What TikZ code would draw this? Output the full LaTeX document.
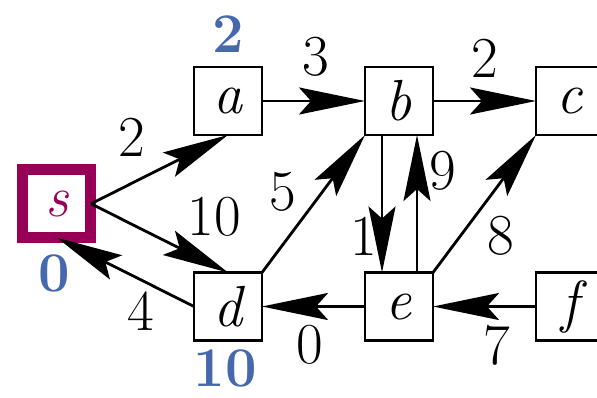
\documentclass[tikz,border=0pt]{standalone}
\usetikzlibrary{positioning,arrows.meta,calc}
\definecolor{srccol}{RGB}{152,0,88}
\definecolor{distcol}{RGB}{70,104,172}
\tikzset{
  fig/.style={font=\fontsize{29}{34}\selectfont},
  vbox/.style={draw,line width=1.4pt,minimum size=34pt,inner sep=0pt,outer sep=0pt,
               font=\fontsize{29}{34}\selectfont\itshape},
  srcbox/.style={vbox,draw=srccol,text=srccol,line width=5.5pt},
  ln/.style={-{Stealth[length=33pt,width=13.5pt,inset=6pt]},line width=1.4pt},
  lbl/.style={inner sep=1.5pt},
  dist/.style={inner sep=1.5pt,text=distcol,font=\fontsize{28}{34}\selectfont\bfseries},
}

\begin{document}
\begin{tikzpicture}[fig]
\useasboundingbox (-114pt,-148pt) rectangle (184.5pt,50.5pt);

% --- the vertices, a grid of two rows
\node[vbox] (a) at (0,0) {a};
\node[vbox,right=51.5pt of a] (b) {b};
\node[vbox,right=51.5pt of b] (c) {c};
\node[vbox,below=68.75pt of a] (d) {d};
\node[vbox,right=51.5pt of d] (e) {e};
\node[vbox,right=51.5pt of e] (f) {f};
\node[srcbox] (s) at ($(a)!0.5!(d)+(-85.5pt,0)$) {s};

% --- distances
\node[dist,above=5.5pt of a] (da) {2};
\node[dist,below=7pt of s,xshift=-1.5pt] (ds) {0};
\node[dist,below=3pt of d,xshift=-1.5pt] (dd) {10};

% --- weighted edges
\draw[ln] (s.east) -- node[lbl,pos=0.3,above=11pt]{2} (a.south);
\draw[ln] (a) -- node[lbl,pos=0.52,above=10pt]{3} (b);
\draw[ln] (b) -- node[lbl,pos=0.5,above=9.5pt]{2} (c);
\draw[ln] (s.east) -- node[lbl,pos=0.9,above=12.5pt]{10} (d.north);
\draw[ln] (d.west) -- node[lbl,pos=0.39,below=4pt]{4} (s.south);
\draw[ln] (d.north east) -- node[lbl,pos=0.59,left=11pt]{5} (b.south west);
\draw[ln] ([xshift=-8.5pt]b.south) -- node[lbl,pos=0.74,left=0pt]{1} ([xshift=-8.5pt]e.north);
\draw[ln] ([xshift=9pt]e.north) -- node[lbl,pos=0.74,right=4pt]{9} ([xshift=9pt]b.south);
\draw[ln] (e.north east) -- node[lbl,pos=0.27,right=11pt]{8} (c.south west);
\draw[ln] (e) -- node[lbl,pos=0.54,below=7pt]{0} (d);
\draw[ln] (f) -- node[lbl,pos=0.38,below=7pt]{7} (e);

\end{tikzpicture}
\end{document}
